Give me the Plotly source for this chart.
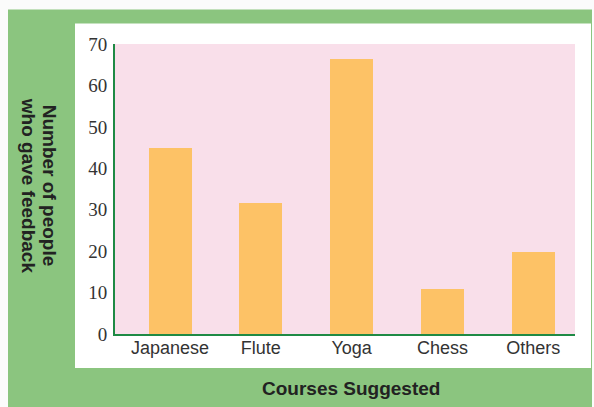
import plotly.graph_objects as go

courses = ["Japanese", "Flute", "Yoga", "Chess", "Others"]
feedback = [45, 31.6, 66.5, 10.8, 19.8]
y_ticks = [0, 10, 20, 30, 40, 50, 60, 70]

W, H = 594, 407
L, R, T, B = 115, 575, 43.5, 334

def px(x):
    return (x - L) / (R - L)

def py(y):
    return (B - y) / (B - T)

fig = go.Figure(go.Bar(
    x=list(range(len(courses))), y=feedback,
    marker=dict(color="#fdc266", line=dict(width=0)),
    width=0.474,
))

shapes = [
    dict(type="rect", xref="paper", yref="paper", x0=px(8), x1=px(592), y0=py(9), y1=py(420),
         fillcolor="#8bc57f", line=dict(width=0), layer="below"),
    dict(type="rect", xref="paper", yref="paper", x0=px(75), x1=px(591), y0=py(23), y1=py(368),
         fillcolor="#ffffff", line=dict(width=0), layer="below"),
    dict(type="rect", xref="paper", yref="paper", x0=0, x1=1, y0=0, y1=1,
         fillcolor="#f9dfea", line=dict(width=0), layer="below"),
]

title_font = dict(family="Liberation Sans, Arial", size=19, color="#222222")
annotations = [
    dict(text="<b>Number of people</b>", xref="paper", yref="paper",
         x=px(49), y=py(185.5), xanchor="center", yanchor="middle", textangle=90,
         showarrow=False, font=title_font),
    dict(text="<b>who gave feedback</b>", xref="paper", yref="paper",
         x=px(28), y=py(185.5), xanchor="center", yanchor="middle", textangle=90,
         showarrow=False, font=title_font),
    dict(text="<b>Courses Suggested</b>", xref="paper", yref="paper",
         x=px(351), y=py(389), xanchor="center", yanchor="middle", showarrow=False,
         font=title_font),
]

fig.update_layout(
    width=W, height=H,
    margin=dict(l=L, r=W - R, t=T, b=H - B, pad=0),
    paper_bgcolor="#fbfbfb",
    plot_bgcolor="rgba(0,0,0,0)",
    shapes=shapes,
    annotations=annotations,
    showlegend=False,
    bargap=0,
)
fig.update_xaxes(
    range=[-0.606, 4.46],
    tickvals=list(range(len(courses))), ticktext=courses,
    showgrid=False, zeroline=False,
    showline=True, linecolor="#1f8a45", linewidth=2,
    ticks="", ticklabelstandoff=-4,
    tickfont=dict(family="Liberation Sans, Arial", size=18, color="#333333"),
)
fig.update_yaxes(
    range=[0, 70],
    tickvals=y_ticks,
    showgrid=False, zeroline=False,
    showline=True, linecolor="#1f8a45", linewidth=2,
    ticks="outside", ticklen=2, tickcolor="rgba(0,0,0,0)",
    tickfont=dict(family="Liberation Serif, Times New Roman", size=19, color="#333333"),
)

fig.write_html(
    "out.html",
    config={"displayModeBar": False},
    post_script="document.body.style.margin='0';document.body.style.overflow='hidden';",
)
